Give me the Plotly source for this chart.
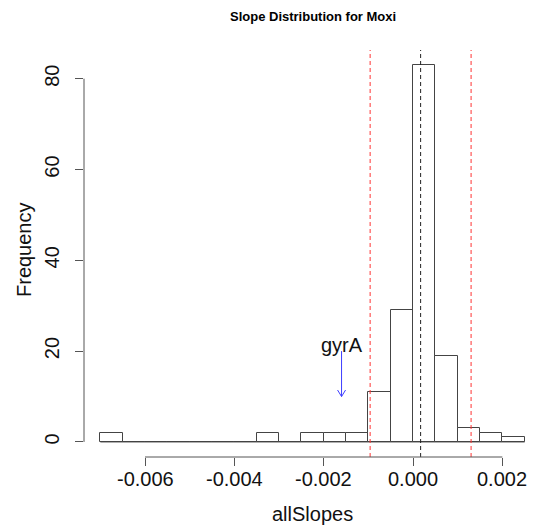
import plotly.graph_objects as go

# ---- data ----
bin_start = -0.007
bin_width = 0.0005
counts = [2, 0, 0, 0, 0, 0, 0, 2, 0, 2, 2, 2, 11, 29, 83, 19, 3, 2, 1]
x_ticks = [-0.006, -0.004, -0.002, 0.000, 0.002]
x_tick_labels = ["-0.006", "-0.004", "-0.002", "0.000", "0.002"]
y_ticks = [0, 20, 40, 60, 80]
red_lines = [-0.00096, 0.0013]
black_line = 0.00017
arrow_x = -0.0016
arrow_from, arrow_to = 20, 10
label_text = "gyrA"

centers = [bin_start + bin_width * (i + 0.5) for i in range(len(counts))]

W, H = 535, 531
ml, mr, mt, mb = 84, 0, 50, 74
xr = [-0.007366, 0.002731]
yr = [-3.32, 86.32]
FONT = "Liberation Sans, Arial, Helvetica, sans-serif"
AX = "#555555"
TXT = "#111111"

pw = W - ml - mr
ph = H - mt - mb
xpp = (xr[1] - xr[0]) / pw   # data units per pixel (x)
ypp = (yr[1] - yr[0]) / ph   # data units per pixel (y)

fig = go.Figure()
fig.add_trace(go.Bar(
    x=centers, y=counts, width=[bin_width] * len(counts),
    marker=dict(color="white", line=dict(color="#444444", width=1)),
    hoverinfo="x+y", showlegend=False,
))

shapes = []
shapes.append(dict(type="line", xref="x", yref="y",
                   x0=bin_start, x1=bin_start + bin_width * len(counts),
                   y0=0, y1=0, line=dict(color="#444444", width=1), layer="above"))
for v in red_lines:
    shapes.append(dict(type="line", xref="x", yref="paper", x0=v, x1=v, y0=0, y1=1,
                       line=dict(color="#ff3333", width=1, dash="4px,3px"), layer="above"))
shapes.append(dict(type="line", xref="x", yref="paper", x0=black_line, x1=black_line, y0=0, y1=1,
                   line=dict(color="#222222", width=1, dash="4px,3px"), layer="above"))
# R-style axis lines
shapes.append(dict(type="line", xref="x", yref="paper", x0=x_ticks[0], x1=x_ticks[-1], y0=0, y1=0,
                   line=dict(color=AX, width=1)))
shapes.append(dict(type="line", xref="paper", yref="y", x0=0, x1=0, y0=y_ticks[0], y1=y_ticks[-1],
                   line=dict(color=AX, width=1)))
# arrow (R style open head)
acol = "#3c3cff"
shapes.append(dict(type="line", xref="x", yref="y", x0=arrow_x, x1=arrow_x,
                   y0=arrow_from, y1=arrow_to, line=dict(color=acol, width=1)))
for s in (-1, 1):
    shapes.append(dict(type="line", xref="x", yref="y", x0=arrow_x + s * 4 * xpp, x1=arrow_x,
                       y0=arrow_to + 6.5 * ypp, y1=arrow_to, line=dict(color=acol, width=1)))

def px_x(px):
    return (px - ml) / pw
def px_y(py):
    return 1 - (py - mt) / ph

annotations = [
    dict(text="<b>Slope Distribution for Moxi</b>", xref="paper", yref="paper",
         x=px_x(312.5), y=px_y(17), showarrow=False, font=dict(size=13, color="black", family=FONT),
         xanchor="center", yanchor="middle"),
    dict(text="allSlopes", xref="paper", yref="paper", x=px_x(312.5), y=px_y(514),
         showarrow=False, font=dict(size=20, color=TXT, family=FONT),
         xanchor="center", yanchor="middle"),
    dict(text="Frequency", xref="paper", yref="paper", x=px_x(24), y=px_y(250),
         showarrow=False, textangle=-90, font=dict(size=20, color=TXT, family=FONT),
         xanchor="center", yanchor="middle"),
    dict(text=label_text, x=arrow_x, y=21.4, xref="x", yref="y", showarrow=False,
         font=dict(size=20, color=TXT, family=FONT), xanchor="center", yanchor="middle"),
]
for v, t in zip(x_ticks, x_tick_labels):
    annotations.append(dict(text=t, x=v, xref="x", yref="paper", y=px_y(479),
                            showarrow=False, xanchor="center", yanchor="middle",
                            font=dict(size=20, color=TXT, family=FONT)))

fig.update_layout(
    width=W, height=H,
    margin=dict(l=ml, r=mr, t=mt, b=mb, pad=0),
    paper_bgcolor="white", plot_bgcolor="white",
    bargap=0,
    shapes=shapes, annotations=annotations,
    xaxis=dict(range=xr, showgrid=False, zeroline=False, showline=False,
               tickmode="array", tickvals=x_ticks, showticklabels=False,
               ticks="outside", ticklen=8, tickcolor=AX, tickwidth=1),
    yaxis=dict(range=yr, showgrid=False, zeroline=False, showline=False,
               tickmode="array", tickvals=y_ticks, ticktext=[str(v) for v in y_ticks],
               ticks="outside", ticklen=8, tickcolor=AX, tickwidth=1, tickangle=-90,
               ticklabelstandoff=8,
               tickfont=dict(size=20, color=TXT, family=FONT)),
    font=dict(family=FONT),
)

fig.write_html("out.html")
